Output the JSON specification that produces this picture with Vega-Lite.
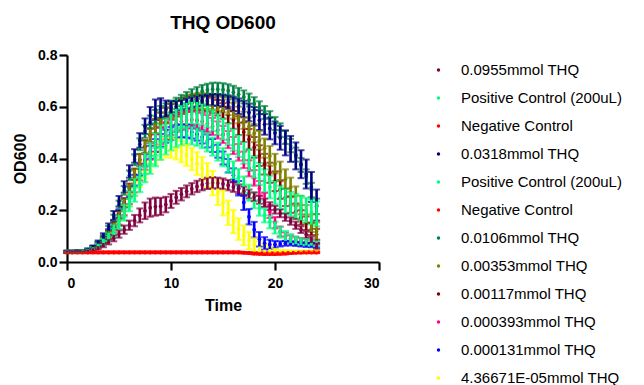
{
"$schema": "https://vega.github.io/schema/vega-lite/v6.json",
"width": 312,
"height": 207,
"autosize": "none",
"padding": {"left": 67, "top": 55, "right": 265, "bottom": 123},
"background": "white",
"title": {"text": "THQ OD600", "fontSize": 19, "fontWeight": "bold", "font": "Liberation Sans", "color": "black", "anchor": "middle", "offset": 15},
"config": {
  "view": {"stroke": null},
  "axis": {"domainColor": "black", "domainWidth": 2.2, "tickColor": "black", "tickWidth": 2.2, "tickSize": 8, "grid": false,
    "labelFont": "Liberation Sans", "labelFontSize": 14, "labelFontWeight": "bold", "labelColor": "black",
    "titleFont": "Liberation Sans", "titleFontSize": 16, "titleFontWeight": "bold", "titleColor": "black"},
  "axisX": {"labelPadding": 6, "titlePadding": 7},
  "axisY": {"labelPadding": 2, "titlePadding": 9}
},
"data": {"values": [
{"s":"l","t":0,"y":0.040,"e":0.003},{"s":"l","t":0.5,"y":0.040,"e":0.003},{"s":"l","t":1,"y":0.040,"e":0.003},{"s":"l","t":1.5,"y":0.042,"e":0.003},{"s":"l","t":2,"y":0.045,"e":0.004},{"s":"l","t":2.5,"y":0.051,"e":0.005},{"s":"l","t":3,"y":0.062,"e":0.007},{"s":"l","t":3.5,"y":0.078,"e":0.009},{"s":"l","t":4,"y":0.100,"e":0.012},{"s":"l","t":4.5,"y":0.128,"e":0.015},{"s":"l","t":5,"y":0.162,"e":0.018},{"s":"l","t":5.5,"y":0.200,"e":0.021},{"s":"l","t":6,"y":0.240,"e":0.024},{"s":"l","t":6.5,"y":0.281,"e":0.027},{"s":"l","t":7,"y":0.320,"e":0.030},{"s":"l","t":7.5,"y":0.356,"e":0.032},{"s":"l","t":8,"y":0.388,"e":0.034},{"s":"l","t":8.5,"y":0.414,"e":0.036},{"s":"l","t":9,"y":0.432,"e":0.037},{"s":"l","t":9.5,"y":0.442,"e":0.038},{"s":"l","t":10,"y":0.442,"e":0.039},{"s":"l","t":10.5,"y":0.436,"e":0.040},{"s":"l","t":11,"y":0.426,"e":0.041},{"s":"l","t":11.5,"y":0.413,"e":0.042},{"s":"l","t":12,"y":0.398,"e":0.043},{"s":"l","t":12.5,"y":0.381,"e":0.044},{"s":"l","t":13,"y":0.361,"e":0.045},{"s":"l","t":13.5,"y":0.336,"e":0.046},{"s":"l","t":14,"y":0.305,"e":0.047},{"s":"l","t":14.5,"y":0.268,"e":0.048},{"s":"l","t":15,"y":0.228,"e":0.048},{"s":"l","t":15.5,"y":0.190,"e":0.047},{"s":"l","t":16,"y":0.156,"e":0.045},{"s":"l","t":16.5,"y":0.127,"e":0.042},{"s":"l","t":17,"y":0.103,"e":0.038},{"s":"l","t":17.5,"y":0.083,"e":0.033},{"s":"l","t":18,"y":0.068,"e":0.027},{"s":"l","t":18.5,"y":0.058,"e":0.021},{"s":"l","t":19,"y":0.050,"e":0.016},{"s":"l","t":19.5,"y":0.045,"e":0.012},{"s":"l","t":20,"y":0.042,"e":0.009},{"s":"l","t":20.5,"y":0.040,"e":0.007},{"s":"l","t":21,"y":0.040,"e":0.006},{"s":"l","t":21.5,"y":0.040,"e":0.005},{"s":"l","t":22,"y":0.040,"e":0.004},{"s":"l","t":22.5,"y":0.040,"e":0.004},{"s":"l","t":23,"y":0.040,"e":0.004},{"s":"l","t":23.5,"y":0.040,"e":0.004},{"s":"l","t":24,"y":0.040,"e":0.004},
{"s":"k","t":0,"y":0.040,"e":0.003},{"s":"k","t":0.5,"y":0.040,"e":0.003},{"s":"k","t":1,"y":0.041,"e":0.003},{"s":"k","t":1.5,"y":0.043,"e":0.003},{"s":"k","t":2,"y":0.047,"e":0.004},{"s":"k","t":2.5,"y":0.056,"e":0.005},{"s":"k","t":3,"y":0.070,"e":0.007},{"s":"k","t":3.5,"y":0.090,"e":0.009},{"s":"k","t":4,"y":0.116,"e":0.011},{"s":"k","t":4.5,"y":0.148,"e":0.013},{"s":"k","t":5,"y":0.186,"e":0.015},{"s":"k","t":5.5,"y":0.228,"e":0.017},{"s":"k","t":6,"y":0.272,"e":0.019},{"s":"k","t":6.5,"y":0.316,"e":0.021},{"s":"k","t":7,"y":0.357,"e":0.023},{"s":"k","t":7.5,"y":0.393,"e":0.024},{"s":"k","t":8,"y":0.424,"e":0.025},{"s":"k","t":8.5,"y":0.450,"e":0.025},{"s":"k","t":9,"y":0.470,"e":0.025},{"s":"k","t":9.5,"y":0.486,"e":0.025},{"s":"k","t":10,"y":0.497,"e":0.025},{"s":"k","t":10.5,"y":0.504,"e":0.025},{"s":"k","t":11,"y":0.507,"e":0.025},{"s":"k","t":11.5,"y":0.506,"e":0.025},{"s":"k","t":12,"y":0.502,"e":0.025},{"s":"k","t":12.5,"y":0.494,"e":0.025},{"s":"k","t":13,"y":0.483,"e":0.025},{"s":"k","t":13.5,"y":0.468,"e":0.025},{"s":"k","t":14,"y":0.450,"e":0.025},{"s":"k","t":14.5,"y":0.428,"e":0.025},{"s":"k","t":15,"y":0.402,"e":0.025},{"s":"k","t":15.5,"y":0.372,"e":0.026},{"s":"k","t":16,"y":0.335,"e":0.027},{"s":"k","t":16.5,"y":0.285,"e":0.028},{"s":"k","t":17,"y":0.230,"e":0.029},{"s":"k","t":17.5,"y":0.175,"e":0.030},{"s":"k","t":18,"y":0.125,"e":0.030},{"s":"k","t":18.5,"y":0.088,"e":0.028},{"s":"k","t":19,"y":0.072,"e":0.024},{"s":"k","t":19.5,"y":0.068,"e":0.018},{"s":"k","t":20,"y":0.068,"e":0.013},{"s":"k","t":20.5,"y":0.070,"e":0.010},{"s":"k","t":21,"y":0.072,"e":0.009},{"s":"k","t":21.5,"y":0.072,"e":0.008},{"s":"k","t":22,"y":0.070,"e":0.008},{"s":"k","t":22.5,"y":0.068,"e":0.008},{"s":"k","t":23,"y":0.066,"e":0.008},{"s":"k","t":23.5,"y":0.065,"e":0.008},{"s":"k","t":24,"y":0.064,"e":0.008},
{"s":"j","t":0,"y":0.040,"e":0.003},{"s":"j","t":0.5,"y":0.040,"e":0.003},{"s":"j","t":1,"y":0.040,"e":0.003},{"s":"j","t":1.5,"y":0.042,"e":0.003},{"s":"j","t":2,"y":0.045,"e":0.004},{"s":"j","t":2.5,"y":0.052,"e":0.005},{"s":"j","t":3,"y":0.063,"e":0.007},{"s":"j","t":3.5,"y":0.079,"e":0.009},{"s":"j","t":4,"y":0.100,"e":0.012},{"s":"j","t":4.5,"y":0.128,"e":0.015},{"s":"j","t":5,"y":0.162,"e":0.018},{"s":"j","t":5.5,"y":0.202,"e":0.021},{"s":"j","t":6,"y":0.248,"e":0.024},{"s":"j","t":6.5,"y":0.296,"e":0.027},{"s":"j","t":7,"y":0.344,"e":0.029},{"s":"j","t":7.5,"y":0.388,"e":0.031},{"s":"j","t":8,"y":0.427,"e":0.032},{"s":"j","t":8.5,"y":0.460,"e":0.033},{"s":"j","t":9,"y":0.487,"e":0.033},{"s":"j","t":9.5,"y":0.508,"e":0.033},{"s":"j","t":10,"y":0.524,"e":0.033},{"s":"j","t":10.5,"y":0.536,"e":0.033},{"s":"j","t":11,"y":0.544,"e":0.033},{"s":"j","t":11.5,"y":0.549,"e":0.033},{"s":"j","t":12,"y":0.550,"e":0.033},{"s":"j","t":12.5,"y":0.548,"e":0.033},{"s":"j","t":13,"y":0.543,"e":0.033},{"s":"j","t":13.5,"y":0.535,"e":0.033},{"s":"j","t":14,"y":0.524,"e":0.033},{"s":"j","t":14.5,"y":0.510,"e":0.033},{"s":"j","t":15,"y":0.493,"e":0.033},{"s":"j","t":15.5,"y":0.473,"e":0.033},{"s":"j","t":16,"y":0.450,"e":0.033},{"s":"j","t":16.5,"y":0.424,"e":0.032},{"s":"j","t":17,"y":0.395,"e":0.032},{"s":"j","t":17.5,"y":0.362,"e":0.031},{"s":"j","t":18,"y":0.325,"e":0.030},{"s":"j","t":18.5,"y":0.284,"e":0.029},{"s":"j","t":19,"y":0.240,"e":0.027},{"s":"j","t":19.5,"y":0.195,"e":0.025},{"s":"j","t":20,"y":0.152,"e":0.022},{"s":"j","t":20.5,"y":0.118,"e":0.019},{"s":"j","t":21,"y":0.098,"e":0.016},{"s":"j","t":21.5,"y":0.090,"e":0.013},{"s":"j","t":22,"y":0.086,"e":0.011},{"s":"j","t":22.5,"y":0.083,"e":0.010},{"s":"j","t":23,"y":0.080,"e":0.009},{"s":"j","t":23.5,"y":0.078,"e":0.009},{"s":"j","t":24,"y":0.076,"e":0.009},
{"s":"i","t":0,"y":0.040,"e":0.003},{"s":"i","t":0.5,"y":0.040,"e":0.003},{"s":"i","t":1,"y":0.041,"e":0.003},{"s":"i","t":1.5,"y":0.042,"e":0.003},{"s":"i","t":2,"y":0.046,"e":0.004},{"s":"i","t":2.5,"y":0.053,"e":0.005},{"s":"i","t":3,"y":0.066,"e":0.007},{"s":"i","t":3.5,"y":0.085,"e":0.009},{"s":"i","t":4,"y":0.110,"e":0.011},{"s":"i","t":4.5,"y":0.143,"e":0.013},{"s":"i","t":5,"y":0.183,"e":0.015},{"s":"i","t":5.5,"y":0.230,"e":0.017},{"s":"i","t":6,"y":0.284,"e":0.019},{"s":"i","t":6.5,"y":0.340,"e":0.021},{"s":"i","t":7,"y":0.395,"e":0.023},{"s":"i","t":7.5,"y":0.446,"e":0.025},{"s":"i","t":8,"y":0.490,"e":0.027},{"s":"i","t":8.5,"y":0.524,"e":0.028},{"s":"i","t":9,"y":0.548,"e":0.029},{"s":"i","t":9.5,"y":0.566,"e":0.030},{"s":"i","t":10,"y":0.580,"e":0.030},{"s":"i","t":10.5,"y":0.592,"e":0.030},{"s":"i","t":11,"y":0.602,"e":0.030},{"s":"i","t":11.5,"y":0.610,"e":0.030},{"s":"i","t":12,"y":0.615,"e":0.030},{"s":"i","t":12.5,"y":0.617,"e":0.030},{"s":"i","t":13,"y":0.616,"e":0.030},{"s":"i","t":13.5,"y":0.612,"e":0.030},{"s":"i","t":14,"y":0.605,"e":0.030},{"s":"i","t":14.5,"y":0.596,"e":0.030},{"s":"i","t":15,"y":0.584,"e":0.030},{"s":"i","t":15.5,"y":0.568,"e":0.032},{"s":"i","t":16,"y":0.549,"e":0.034},{"s":"i","t":16.5,"y":0.527,"e":0.036},{"s":"i","t":17,"y":0.502,"e":0.038},{"s":"i","t":17.5,"y":0.474,"e":0.040},{"s":"i","t":18,"y":0.443,"e":0.040},{"s":"i","t":18.5,"y":0.411,"e":0.040},{"s":"i","t":19,"y":0.378,"e":0.040},{"s":"i","t":19.5,"y":0.345,"e":0.039},{"s":"i","t":20,"y":0.312,"e":0.038},{"s":"i","t":20.5,"y":0.280,"e":0.036},{"s":"i","t":21,"y":0.250,"e":0.034},{"s":"i","t":21.5,"y":0.222,"e":0.032},{"s":"i","t":22,"y":0.196,"e":0.030},{"s":"i","t":22.5,"y":0.172,"e":0.028},{"s":"i","t":23,"y":0.150,"e":0.026},{"s":"i","t":23.5,"y":0.128,"e":0.024},{"s":"i","t":24,"y":0.106,"e":0.022},
{"s":"h","t":0,"y":0.040,"e":0.003},{"s":"h","t":0.5,"y":0.040,"e":0.003},{"s":"h","t":1,"y":0.041,"e":0.003},{"s":"h","t":1.5,"y":0.042,"e":0.003},{"s":"h","t":2,"y":0.046,"e":0.004},{"s":"h","t":2.5,"y":0.053,"e":0.005},{"s":"h","t":3,"y":0.065,"e":0.007},{"s":"h","t":3.5,"y":0.083,"e":0.009},{"s":"h","t":4,"y":0.108,"e":0.011},{"s":"h","t":4.5,"y":0.140,"e":0.013},{"s":"h","t":5,"y":0.180,"e":0.015},{"s":"h","t":5.5,"y":0.228,"e":0.017},{"s":"h","t":6,"y":0.282,"e":0.019},{"s":"h","t":6.5,"y":0.338,"e":0.021},{"s":"h","t":7,"y":0.394,"e":0.023},{"s":"h","t":7.5,"y":0.445,"e":0.025},{"s":"h","t":8,"y":0.490,"e":0.027},{"s":"h","t":8.5,"y":0.525,"e":0.028},{"s":"h","t":9,"y":0.550,"e":0.029},{"s":"h","t":9.5,"y":0.568,"e":0.030},{"s":"h","t":10,"y":0.582,"e":0.030},{"s":"h","t":10.5,"y":0.594,"e":0.030},{"s":"h","t":11,"y":0.604,"e":0.030},{"s":"h","t":11.5,"y":0.612,"e":0.030},{"s":"h","t":12,"y":0.618,"e":0.030},{"s":"h","t":12.5,"y":0.621,"e":0.030},{"s":"h","t":13,"y":0.622,"e":0.030},{"s":"h","t":13.5,"y":0.621,"e":0.030},{"s":"h","t":14,"y":0.618,"e":0.030},{"s":"h","t":14.5,"y":0.614,"e":0.030},{"s":"h","t":15,"y":0.608,"e":0.030},{"s":"h","t":15.5,"y":0.598,"e":0.030},{"s":"h","t":16,"y":0.585,"e":0.031},{"s":"h","t":16.5,"y":0.568,"e":0.032},{"s":"h","t":17,"y":0.548,"e":0.033},{"s":"h","t":17.5,"y":0.524,"e":0.034},{"s":"h","t":18,"y":0.498,"e":0.035},{"s":"h","t":18.5,"y":0.470,"e":0.036},{"s":"h","t":19,"y":0.440,"e":0.037},{"s":"h","t":19.5,"y":0.410,"e":0.038},{"s":"h","t":20,"y":0.380,"e":0.038},{"s":"h","t":20.5,"y":0.350,"e":0.038},{"s":"h","t":21,"y":0.320,"e":0.038},{"s":"h","t":21.5,"y":0.288,"e":0.038},{"s":"h","t":22,"y":0.255,"e":0.037},{"s":"h","t":22.5,"y":0.220,"e":0.036},{"s":"h","t":23,"y":0.185,"e":0.035},{"s":"h","t":23.5,"y":0.150,"e":0.034},{"s":"h","t":24,"y":0.120,"e":0.033},
{"s":"g","t":0,"y":0.040,"e":0.003},{"s":"g","t":0.5,"y":0.040,"e":0.003},{"s":"g","t":1,"y":0.041,"e":0.003},{"s":"g","t":1.5,"y":0.043,"e":0.003},{"s":"g","t":2,"y":0.047,"e":0.004},{"s":"g","t":2.5,"y":0.056,"e":0.005},{"s":"g","t":3,"y":0.072,"e":0.007},{"s":"g","t":3.5,"y":0.095,"e":0.009},{"s":"g","t":4,"y":0.128,"e":0.011},{"s":"g","t":4.5,"y":0.170,"e":0.013},{"s":"g","t":5,"y":0.222,"e":0.015},{"s":"g","t":5.5,"y":0.277,"e":0.017},{"s":"g","t":6,"y":0.335,"e":0.019},{"s":"g","t":6.5,"y":0.395,"e":0.021},{"s":"g","t":7,"y":0.455,"e":0.023},{"s":"g","t":7.5,"y":0.505,"e":0.025},{"s":"g","t":8,"y":0.540,"e":0.026},{"s":"g","t":8.5,"y":0.562,"e":0.026},{"s":"g","t":9,"y":0.578,"e":0.025},{"s":"g","t":9.5,"y":0.589,"e":0.024},{"s":"g","t":10,"y":0.601,"e":0.023},{"s":"g","t":10.5,"y":0.613,"e":0.022},{"s":"g","t":11,"y":0.624,"e":0.022},{"s":"g","t":11.5,"y":0.635,"e":0.022},{"s":"g","t":12,"y":0.645,"e":0.023},{"s":"g","t":12.5,"y":0.653,"e":0.023},{"s":"g","t":13,"y":0.660,"e":0.024},{"s":"g","t":13.5,"y":0.665,"e":0.024},{"s":"g","t":14,"y":0.668,"e":0.025},{"s":"g","t":14.5,"y":0.668,"e":0.025},{"s":"g","t":15,"y":0.666,"e":0.025},{"s":"g","t":15.5,"y":0.662,"e":0.025},{"s":"g","t":16,"y":0.656,"e":0.025},{"s":"g","t":16.5,"y":0.648,"e":0.025},{"s":"g","t":17,"y":0.638,"e":0.025},{"s":"g","t":17.5,"y":0.626,"e":0.025},{"s":"g","t":18,"y":0.612,"e":0.025},{"s":"g","t":18.5,"y":0.596,"e":0.025},{"s":"g","t":19,"y":0.578,"e":0.025},{"s":"g","t":19.5,"y":0.558,"e":0.025},{"s":"g","t":20,"y":0.535,"e":0.025},{"s":"g","t":20.5,"y":0.510,"e":0.026},{"s":"g","t":21,"y":0.482,"e":0.026},{"s":"g","t":21.5,"y":0.450,"e":0.026},{"s":"g","t":22,"y":0.415,"e":0.027},{"s":"g","t":22.5,"y":0.375,"e":0.027},{"s":"g","t":23,"y":0.330,"e":0.028},{"s":"g","t":23.5,"y":0.278,"e":0.028},{"s":"g","t":24,"y":0.215,"e":0.030},
{"s":"f","t":0,"y":0.038,"e":0.003},{"s":"f","t":0.5,"y":0.038,"e":0.003},{"s":"f","t":1,"y":0.038,"e":0.003},{"s":"f","t":1.5,"y":0.038,"e":0.003},{"s":"f","t":2,"y":0.038,"e":0.003},{"s":"f","t":2.5,"y":0.038,"e":0.003},{"s":"f","t":3,"y":0.038,"e":0.003},{"s":"f","t":3.5,"y":0.038,"e":0.003},{"s":"f","t":4,"y":0.038,"e":0.003},{"s":"f","t":4.5,"y":0.038,"e":0.003},{"s":"f","t":5,"y":0.038,"e":0.003},{"s":"f","t":5.5,"y":0.038,"e":0.003},{"s":"f","t":6,"y":0.038,"e":0.003},{"s":"f","t":6.5,"y":0.038,"e":0.003},{"s":"f","t":7,"y":0.038,"e":0.003},{"s":"f","t":7.5,"y":0.038,"e":0.003},{"s":"f","t":8,"y":0.038,"e":0.003},{"s":"f","t":8.5,"y":0.038,"e":0.003},{"s":"f","t":9,"y":0.038,"e":0.003},{"s":"f","t":9.5,"y":0.038,"e":0.003},{"s":"f","t":10,"y":0.038,"e":0.003},{"s":"f","t":10.5,"y":0.038,"e":0.003},{"s":"f","t":11,"y":0.038,"e":0.003},{"s":"f","t":11.5,"y":0.038,"e":0.003},{"s":"f","t":12,"y":0.038,"e":0.003},{"s":"f","t":12.5,"y":0.038,"e":0.003},{"s":"f","t":13,"y":0.038,"e":0.003},{"s":"f","t":13.5,"y":0.038,"e":0.003},{"s":"f","t":14,"y":0.038,"e":0.003},{"s":"f","t":14.5,"y":0.038,"e":0.003},{"s":"f","t":15,"y":0.038,"e":0.003},{"s":"f","t":15.5,"y":0.038,"e":0.003},{"s":"f","t":16,"y":0.038,"e":0.003},{"s":"f","t":16.5,"y":0.038,"e":0.003},{"s":"f","t":17,"y":0.036,"e":0.003},{"s":"f","t":17.5,"y":0.034,"e":0.003},{"s":"f","t":18,"y":0.032,"e":0.003},{"s":"f","t":18.5,"y":0.031,"e":0.003},{"s":"f","t":19,"y":0.030,"e":0.003},{"s":"f","t":19.5,"y":0.030,"e":0.003},{"s":"f","t":20,"y":0.030,"e":0.003},{"s":"f","t":20.5,"y":0.031,"e":0.003},{"s":"f","t":21,"y":0.032,"e":0.003},{"s":"f","t":21.5,"y":0.034,"e":0.003},{"s":"f","t":22,"y":0.036,"e":0.003},{"s":"f","t":22.5,"y":0.037,"e":0.003},{"s":"f","t":23,"y":0.038,"e":0.003},{"s":"f","t":23.5,"y":0.038,"e":0.003},{"s":"f","t":24,"y":0.038,"e":0.003},
{"s":"e","t":0,"y":0.040,"e":0.003},{"s":"e","t":0.5,"y":0.040,"e":0.003},{"s":"e","t":1,"y":0.040,"e":0.003},{"s":"e","t":1.5,"y":0.041,"e":0.003},{"s":"e","t":2,"y":0.044,"e":0.004},{"s":"e","t":2.5,"y":0.050,"e":0.005},{"s":"e","t":3,"y":0.060,"e":0.006},{"s":"e","t":3.5,"y":0.074,"e":0.009},{"s":"e","t":4,"y":0.092,"e":0.011},{"s":"e","t":4.5,"y":0.115,"e":0.014},{"s":"e","t":5,"y":0.145,"e":0.017},{"s":"e","t":5.5,"y":0.180,"e":0.020},{"s":"e","t":6,"y":0.220,"e":0.024},{"s":"e","t":6.5,"y":0.260,"e":0.027},{"s":"e","t":7,"y":0.300,"e":0.030},{"s":"e","t":7.5,"y":0.340,"e":0.032},{"s":"e","t":8,"y":0.375,"e":0.034},{"s":"e","t":8.5,"y":0.405,"e":0.035},{"s":"e","t":9,"y":0.430,"e":0.035},{"s":"e","t":9.5,"y":0.450,"e":0.035},{"s":"e","t":10,"y":0.466,"e":0.035},{"s":"e","t":10.5,"y":0.478,"e":0.035},{"s":"e","t":11,"y":0.486,"e":0.035},{"s":"e","t":11.5,"y":0.490,"e":0.035},{"s":"e","t":12,"y":0.489,"e":0.035},{"s":"e","t":12.5,"y":0.484,"e":0.035},{"s":"e","t":13,"y":0.475,"e":0.035},{"s":"e","t":13.5,"y":0.462,"e":0.035},{"s":"e","t":14,"y":0.446,"e":0.035},{"s":"e","t":14.5,"y":0.427,"e":0.035},{"s":"e","t":15,"y":0.405,"e":0.035},{"s":"e","t":15.5,"y":0.381,"e":0.035},{"s":"e","t":16,"y":0.355,"e":0.034},{"s":"e","t":16.5,"y":0.327,"e":0.033},{"s":"e","t":17,"y":0.298,"e":0.032},{"s":"e","t":17.5,"y":0.268,"e":0.031},{"s":"e","t":18,"y":0.238,"e":0.030},{"s":"e","t":18.5,"y":0.208,"e":0.029},{"s":"e","t":19,"y":0.180,"e":0.027},{"s":"e","t":19.5,"y":0.155,"e":0.025},{"s":"e","t":20,"y":0.133,"e":0.023},{"s":"e","t":20.5,"y":0.115,"e":0.021},{"s":"e","t":21,"y":0.101,"e":0.019},{"s":"e","t":21.5,"y":0.091,"e":0.017},{"s":"e","t":22,"y":0.084,"e":0.015},{"s":"e","t":22.5,"y":0.079,"e":0.013},{"s":"e","t":23,"y":0.076,"e":0.012},{"s":"e","t":23.5,"y":0.074,"e":0.011},{"s":"e","t":24,"y":0.072,"e":0.010},
{"s":"d","t":0,"y":0.040,"e":0.003},{"s":"d","t":0.5,"y":0.040,"e":0.003},{"s":"d","t":1,"y":0.041,"e":0.003},{"s":"d","t":1.5,"y":0.043,"e":0.003},{"s":"d","t":2,"y":0.048,"e":0.004},{"s":"d","t":2.5,"y":0.058,"e":0.006},{"s":"d","t":3,"y":0.075,"e":0.008},{"s":"d","t":3.5,"y":0.100,"e":0.011},{"s":"d","t":4,"y":0.135,"e":0.014},{"s":"d","t":4.5,"y":0.180,"e":0.017},{"s":"d","t":5,"y":0.235,"e":0.020},{"s":"d","t":5.5,"y":0.290,"e":0.022},{"s":"d","t":6,"y":0.350,"e":0.024},{"s":"d","t":6.5,"y":0.410,"e":0.026},{"s":"d","t":7,"y":0.470,"e":0.028},{"s":"d","t":7.5,"y":0.525,"e":0.030},{"s":"d","t":8,"y":0.565,"e":0.034},{"s":"d","t":8.5,"y":0.588,"e":0.040},{"s":"d","t":9,"y":0.595,"e":0.038},{"s":"d","t":9.5,"y":0.592,"e":0.032},{"s":"d","t":10,"y":0.595,"e":0.026},{"s":"d","t":10.5,"y":0.600,"e":0.022},{"s":"d","t":11,"y":0.606,"e":0.020},{"s":"d","t":11.5,"y":0.612,"e":0.020},{"s":"d","t":12,"y":0.617,"e":0.020},{"s":"d","t":12.5,"y":0.621,"e":0.020},{"s":"d","t":13,"y":0.624,"e":0.020},{"s":"d","t":13.5,"y":0.626,"e":0.021},{"s":"d","t":14,"y":0.627,"e":0.022},{"s":"d","t":14.5,"y":0.626,"e":0.023},{"s":"d","t":15,"y":0.623,"e":0.024},{"s":"d","t":15.5,"y":0.618,"e":0.026},{"s":"d","t":16,"y":0.611,"e":0.028},{"s":"d","t":16.5,"y":0.602,"e":0.030},{"s":"d","t":17,"y":0.591,"e":0.032},{"s":"d","t":17.5,"y":0.578,"e":0.034},{"s":"d","t":18,"y":0.563,"e":0.036},{"s":"d","t":18.5,"y":0.548,"e":0.038},{"s":"d","t":19,"y":0.532,"e":0.040},{"s":"d","t":19.5,"y":0.516,"e":0.042},{"s":"d","t":20,"y":0.499,"e":0.044},{"s":"d","t":20.5,"y":0.480,"e":0.046},{"s":"d","t":21,"y":0.460,"e":0.048},{"s":"d","t":21.5,"y":0.437,"e":0.050},{"s":"d","t":22,"y":0.410,"e":0.052},{"s":"d","t":22.5,"y":0.378,"e":0.054},{"s":"d","t":23,"y":0.340,"e":0.056},{"s":"d","t":23.5,"y":0.290,"e":0.058},{"s":"d","t":24,"y":0.220,"e":0.060},
{"s":"c","t":0,"y":0.036,"e":0.002},{"s":"c","t":0.5,"y":0.036,"e":0.002},{"s":"c","t":1,"y":0.036,"e":0.002},{"s":"c","t":1.5,"y":0.036,"e":0.002},{"s":"c","t":2,"y":0.036,"e":0.002},{"s":"c","t":2.5,"y":0.036,"e":0.002},{"s":"c","t":3,"y":0.036,"e":0.002},{"s":"c","t":3.5,"y":0.036,"e":0.002},{"s":"c","t":4,"y":0.036,"e":0.002},{"s":"c","t":4.5,"y":0.036,"e":0.002},{"s":"c","t":5,"y":0.036,"e":0.002},{"s":"c","t":5.5,"y":0.036,"e":0.002},{"s":"c","t":6,"y":0.036,"e":0.002},{"s":"c","t":6.5,"y":0.036,"e":0.002},{"s":"c","t":7,"y":0.036,"e":0.002},{"s":"c","t":7.5,"y":0.036,"e":0.002},{"s":"c","t":8,"y":0.036,"e":0.002},{"s":"c","t":8.5,"y":0.036,"e":0.002},{"s":"c","t":9,"y":0.036,"e":0.002},{"s":"c","t":9.5,"y":0.036,"e":0.002},{"s":"c","t":10,"y":0.036,"e":0.002},{"s":"c","t":10.5,"y":0.036,"e":0.002},{"s":"c","t":11,"y":0.036,"e":0.002},{"s":"c","t":11.5,"y":0.036,"e":0.002},{"s":"c","t":12,"y":0.036,"e":0.002},{"s":"c","t":12.5,"y":0.036,"e":0.002},{"s":"c","t":13,"y":0.036,"e":0.002},{"s":"c","t":13.5,"y":0.036,"e":0.002},{"s":"c","t":14,"y":0.036,"e":0.002},{"s":"c","t":14.5,"y":0.036,"e":0.002},{"s":"c","t":15,"y":0.036,"e":0.002},{"s":"c","t":15.5,"y":0.036,"e":0.002},{"s":"c","t":16,"y":0.036,"e":0.002},{"s":"c","t":16.5,"y":0.036,"e":0.002},{"s":"c","t":17,"y":0.036,"e":0.002},{"s":"c","t":17.5,"y":0.036,"e":0.002},{"s":"c","t":18,"y":0.035,"e":0.002},{"s":"c","t":18.5,"y":0.035,"e":0.002},{"s":"c","t":19,"y":0.035,"e":0.002},{"s":"c","t":19.5,"y":0.035,"e":0.002},{"s":"c","t":20,"y":0.035,"e":0.002},{"s":"c","t":20.5,"y":0.035,"e":0.002},{"s":"c","t":21,"y":0.036,"e":0.002},{"s":"c","t":21.5,"y":0.036,"e":0.002},{"s":"c","t":22,"y":0.036,"e":0.002},{"s":"c","t":22.5,"y":0.036,"e":0.002},{"s":"c","t":23,"y":0.036,"e":0.002},{"s":"c","t":23.5,"y":0.036,"e":0.002},{"s":"c","t":24,"y":0.036,"e":0.002},
{"s":"b","t":0,"y":0.040,"e":0.003},{"s":"b","t":0.5,"y":0.040,"e":0.003},{"s":"b","t":1,"y":0.040,"e":0.003},{"s":"b","t":1.5,"y":0.042,"e":0.004},{"s":"b","t":2,"y":0.045,"e":0.004},{"s":"b","t":2.5,"y":0.052,"e":0.005},{"s":"b","t":3,"y":0.064,"e":0.007},{"s":"b","t":3.5,"y":0.080,"e":0.010},{"s":"b","t":4,"y":0.100,"e":0.013},{"s":"b","t":4.5,"y":0.128,"e":0.017},{"s":"b","t":5,"y":0.160,"e":0.021},{"s":"b","t":5.5,"y":0.200,"e":0.025},{"s":"b","t":6,"y":0.245,"e":0.030},{"s":"b","t":6.5,"y":0.290,"e":0.034},{"s":"b","t":7,"y":0.335,"e":0.037},{"s":"b","t":7.5,"y":0.380,"e":0.040},{"s":"b","t":8,"y":0.420,"e":0.042},{"s":"b","t":8.5,"y":0.455,"e":0.043},{"s":"b","t":9,"y":0.485,"e":0.044},{"s":"b","t":9.5,"y":0.510,"e":0.044},{"s":"b","t":10,"y":0.530,"e":0.044},{"s":"b","t":10.5,"y":0.548,"e":0.044},{"s":"b","t":11,"y":0.562,"e":0.044},{"s":"b","t":11.5,"y":0.572,"e":0.043},{"s":"b","t":12,"y":0.576,"e":0.043},{"s":"b","t":12.5,"y":0.575,"e":0.043},{"s":"b","t":13,"y":0.570,"e":0.042},{"s":"b","t":13.5,"y":0.561,"e":0.042},{"s":"b","t":14,"y":0.548,"e":0.042},{"s":"b","t":14.5,"y":0.532,"e":0.042},{"s":"b","t":15,"y":0.514,"e":0.042},{"s":"b","t":15.5,"y":0.494,"e":0.042},{"s":"b","t":16,"y":0.472,"e":0.042},{"s":"b","t":16.5,"y":0.448,"e":0.042},{"s":"b","t":17,"y":0.422,"e":0.042},{"s":"b","t":17.5,"y":0.395,"e":0.043},{"s":"b","t":18,"y":0.367,"e":0.043},{"s":"b","t":18.5,"y":0.340,"e":0.043},{"s":"b","t":19,"y":0.314,"e":0.044},{"s":"b","t":19.5,"y":0.290,"e":0.044},{"s":"b","t":20,"y":0.268,"e":0.045},{"s":"b","t":20.5,"y":0.250,"e":0.045},{"s":"b","t":21,"y":0.236,"e":0.046},{"s":"b","t":21.5,"y":0.225,"e":0.046},{"s":"b","t":22,"y":0.216,"e":0.047},{"s":"b","t":22.5,"y":0.208,"e":0.047},{"s":"b","t":23,"y":0.200,"e":0.048},{"s":"b","t":23.5,"y":0.193,"e":0.048},{"s":"b","t":24,"y":0.186,"e":0.048},
{"s":"a","t":0,"y":0.040,"e":0.003},{"s":"a","t":0.5,"y":0.040,"e":0.003},{"s":"a","t":1,"y":0.040,"e":0.003},{"s":"a","t":1.5,"y":0.041,"e":0.003},{"s":"a","t":2,"y":0.043,"e":0.004},{"s":"a","t":2.5,"y":0.048,"e":0.005},{"s":"a","t":3,"y":0.055,"e":0.006},{"s":"a","t":3.5,"y":0.065,"e":0.008},{"s":"a","t":4,"y":0.078,"e":0.010},{"s":"a","t":4.5,"y":0.092,"e":0.012},{"s":"a","t":5,"y":0.108,"e":0.014},{"s":"a","t":5.5,"y":0.125,"e":0.016},{"s":"a","t":6,"y":0.142,"e":0.018},{"s":"a","t":6.5,"y":0.160,"e":0.022},{"s":"a","t":7,"y":0.180,"e":0.027},{"s":"a","t":7.5,"y":0.198,"e":0.032},{"s":"a","t":8,"y":0.210,"e":0.035},{"s":"a","t":8.5,"y":0.214,"e":0.035},{"s":"a","t":9,"y":0.215,"e":0.033},{"s":"a","t":9.5,"y":0.222,"e":0.030},{"s":"a","t":10,"y":0.236,"e":0.027},{"s":"a","t":10.5,"y":0.250,"e":0.025},{"s":"a","t":11,"y":0.262,"e":0.024},{"s":"a","t":11.5,"y":0.273,"e":0.023},{"s":"a","t":12,"y":0.283,"e":0.022},{"s":"a","t":12.5,"y":0.292,"e":0.022},{"s":"a","t":13,"y":0.299,"e":0.022},{"s":"a","t":13.5,"y":0.304,"e":0.022},{"s":"a","t":14,"y":0.306,"e":0.022},{"s":"a","t":14.5,"y":0.305,"e":0.021},{"s":"a","t":15,"y":0.302,"e":0.021},{"s":"a","t":15.5,"y":0.297,"e":0.020},{"s":"a","t":16,"y":0.290,"e":0.019},{"s":"a","t":16.5,"y":0.282,"e":0.018},{"s":"a","t":17,"y":0.273,"e":0.018},{"s":"a","t":17.5,"y":0.263,"e":0.017},{"s":"a","t":18,"y":0.252,"e":0.017},{"s":"a","t":18.5,"y":0.241,"e":0.016},{"s":"a","t":19,"y":0.229,"e":0.016},{"s":"a","t":19.5,"y":0.216,"e":0.015},{"s":"a","t":20,"y":0.202,"e":0.015},{"s":"a","t":20.5,"y":0.188,"e":0.015},{"s":"a","t":21,"y":0.173,"e":0.014},{"s":"a","t":21.5,"y":0.158,"e":0.014},{"s":"a","t":22,"y":0.142,"e":0.014},{"s":"a","t":22.5,"y":0.125,"e":0.013},{"s":"a","t":23,"y":0.106,"e":0.013},{"s":"a","t":23.5,"y":0.086,"e":0.012},{"s":"a","t":24,"y":0.062,"e":0.012}
]},
"encoding": {
  "x": {"field": "t", "type": "quantitative", "scale": {"domain": [0, 30], "nice": false}, "axis": {"values": [0, 10, 20, 30], "title": "Time"}},
  "y": {"field": "y", "type": "quantitative", "scale": {"domain": [0, 0.8], "nice": false}, "axis": {"values": [0, 0.2, 0.4, 0.6, 0.8], "format": ".1f", "title": "OD600"}},
  "color": {"field": "s", "type": "nominal",
    "scale": {"domain": ["a","b","c","d","e","f","g","h","i","j","k","l"], "range": ["#800040","#00FF80","#FF0000","#000080","#00FF80","#FF0000","#008040","#808000","#800000","#FF0080","#0000FF","#FFFF00"]},
    "legend": {"orient": "none", "legendX": 364, "legendY": 7.5, "title": null, "labelFont": "Liberation Sans", "labelFontSize": 15, "labelColor": "black", "labelLimit": 300,
      "symbolType": "circle", "symbolSize": 12, "symbolStrokeWidth": 0, "rowPadding": 12, "labelOffset": 15,
      "labelExpr": "datum.value=='a'?'0.0955mmol THQ':datum.value=='b'?'Positive Control (200uL)':datum.value=='c'?'Negative Control':datum.value=='d'?'0.0318mmol THQ':datum.value=='e'?'Positive Control (200uL)':datum.value=='f'?'Negative Control':datum.value=='g'?'0.0106mmol THQ':datum.value=='h'?'0.00353mmol THQ':datum.value=='i'?'0.00117mmol THQ':datum.value=='j'?'0.000393mmol THQ':datum.value=='k'?'0.000131mmol THQ':'4.36671E-05mmol THQ'"}}
},
"layer": [
  {"mark": {"type": "point", "filled": true, "size": 14, "opacity": 1}},
  {"mark": {"type": "errorbar", "thickness": 2.6, "ticks": {"size": 7, "thickness": 2}},
   "encoding": {"yError": {"field": "e"}}}
]
}
